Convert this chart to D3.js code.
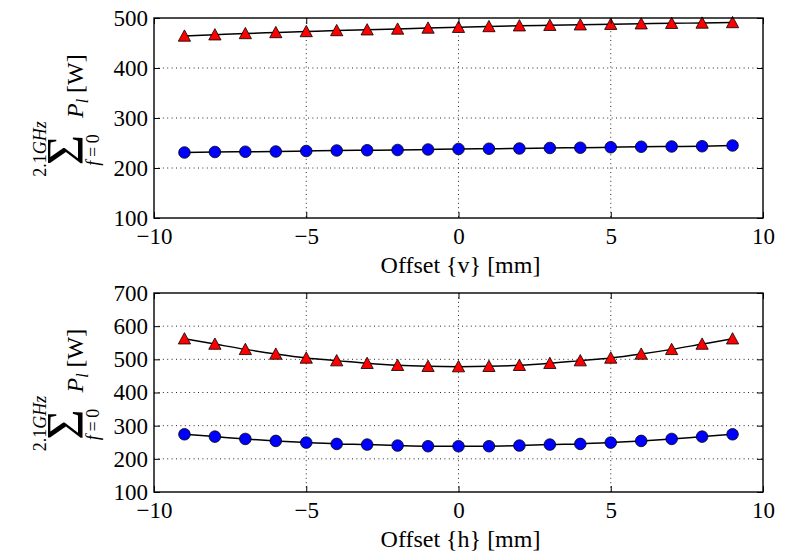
<!DOCTYPE html>
<html>
<head>
<meta charset="utf-8">
<script src="https://cdn.jsdelivr.net/npm/d3@7"></script>
<style>
  body { margin: 0; background: #fff; }
  svg text { font-family: "Liberation Serif", "Times New Roman", Times, serif; fill: #000; }
</style>
</head>
<body>
<svg id="chart" width="795" height="554"></svg>
<script>
// offsets in mm
var offsets = [-9, -8, -7, -6, -5, -4, -3, -2, -1, 0, 1, 2, 3, 4, 5, 6, 7, 8, 9];

// vertical offset panel
var vTriangles = [464, 466.5, 469, 471, 473, 475, 476.5, 478, 480, 481.5, 483, 484.5, 485.5, 486.5, 487.5, 488.5, 489.5, 490, 491];
var vCircles = [231, 232, 232.5, 233, 234, 235, 235.5, 236, 237, 238, 238.5, 239, 240, 240.5, 241.5, 242.5, 243, 243.5, 245];

// horizontal offset panel
var hTriangles = [562, 546, 530, 516, 504, 496, 488, 482, 479, 478, 479, 482, 488, 496, 504, 516, 530, 546, 562];
var hCircles = [274, 267, 260, 254, 249, 245, 243, 240, 238, 238, 238, 240, 243, 245, 249, 254, 260, 267, 274];

var xTicks = [-10, -5, 0, 5, 10];
var vYTicks = [100, 200, 300, 400, 500];
var hYTicks = [100, 200, 300, 400, 500, 600, 700];

var panels = [
    { top: 18, bottom: 218, yDomain: [100, 500], yTicks: vYTicks, tri: vTriangles, circ: vCircles, xlabel: "Offset {v} [mm]" },
    { top: 293, bottom: 492, yDomain: [100, 700], yTicks: hYTicks, tri: hTriangles, circ: hCircles, xlabel: "Offset {h} [mm]" }
];

var svg = d3.select("#chart");
var left = 154, right = 763;
var serif = "Liberation Serif, Times New Roman, serif";

// matplotlib-like "^" marker
var mplTriangle = {
    draw: function(ctx, size) {
        var r = Math.sqrt(size) / 2;
        ctx.moveTo(0, -r);
        ctx.lineTo(r, r * 0.85);
        ctx.lineTo(-r, r * 0.85);
        ctx.closePath();
    }
};

panels.forEach(function(p) {
    var x = d3.scaleLinear().domain([-10, 10]).range([left, right]);
    var y = d3.scaleLinear().domain(p.yDomain).range([p.bottom, p.top]);
    var g = svg.append("g");

    // grid
    g.selectAll(".gx").data(xTicks.slice(1, -1)).enter().append("line")
        .attr("x1", d => x(d)).attr("x2", d => x(d))
        .attr("y1", p.top).attr("y2", p.bottom)
        .attr("stroke", "#111").attr("stroke-width", 0.9).attr("stroke-dasharray", "1,3.4");
    g.selectAll(".gy").data(p.yTicks.slice(1, -1)).enter().append("line")
        .attr("x1", left).attr("x2", right)
        .attr("y1", d => y(d)).attr("y2", d => y(d))
        .attr("stroke", "#111").attr("stroke-width", 0.9).attr("stroke-dasharray", "1,3.4");

    var pts = offsets.map((o, i) => ({ x: o, tri: p.tri[i], circ: p.circ[i] }));
    var line = d3.line().x(d => x(d.x)).curve(d3.curveMonotoneX);

    g.append("path").datum(pts)
        .attr("d", line.y(d => y(d.tri)))
        .attr("fill", "none").attr("stroke", "#000").attr("stroke-width", 1.5);
    g.append("path").datum(pts)
        .attr("d", line.y(d => y(d.circ)))
        .attr("fill", "none").attr("stroke", "#000").attr("stroke-width", 1.5);

    g.selectAll(".circ").data(pts).enter().append("circle")
        .attr("cx", d => x(d.x)).attr("cy", d => y(d.circ)).attr("r", 5.8)
        .attr("fill", "#0000ff").attr("stroke", "#000").attr("stroke-width", 0.8);

    g.selectAll(".tri").data(pts).enter().append("path")
        .attr("transform", d => "translate(" + x(d.x) + "," + y(d.tri) + ")")
        .attr("d", d3.symbol().type(mplTriangle).size(150))
        .attr("fill", "#ff0000").attr("stroke", "#000").attr("stroke-width", 0.8);

    // axes with inward ticks
    g.append("g").attr("transform", "translate(0," + p.bottom + ")")
        .call(d3.axisBottom(x).tickValues(xTicks).tickSize(-6).tickPadding(10).tickFormat(d3.format("d")));
    g.append("g").attr("transform", "translate(0," + p.top + ")")
        .call(d3.axisTop(x).tickValues(xTicks).tickSize(-6).tickFormat(""));
    g.append("g").attr("transform", "translate(" + left + ",0)")
        .call(d3.axisLeft(y).tickValues(p.yTicks).tickSize(-6).tickPadding(6));
    g.append("g").attr("transform", "translate(" + right + ",0)")
        .call(d3.axisRight(y).tickValues(p.yTicks).tickSize(-6).tickFormat(""));

    g.selectAll(".domain").remove();
    g.selectAll("g").attr("font-family", serif);
    g.selectAll(".tick line").attr("stroke", "#000").attr("stroke-width", 1);
    g.selectAll(".tick text").attr("font-size", 23);

    g.append("rect")
        .attr("x", left).attr("y", p.top)
        .attr("width", right - left).attr("height", p.bottom - p.top)
        .attr("fill", "none").attr("stroke", "#000").attr("stroke-width", 1.4);

    // x label
    g.append("text")
        .attr("x", (left + right) / 2 + 2).attr("y", p.bottom + 55)
        .attr("text-anchor", "middle").attr("font-size", 24)
        .text(p.xlabel);

    // y label: sum over f = 0 .. 2.1 GHz of P_l [W]
    var cy = (p.top + p.bottom) / 2;
    var yl = g.append("g").attr("transform", "translate(83," + cy + ") rotate(-90)");
    yl.append("text")
        .attr("x", -32).attr("y", 0).attr("text-anchor", "middle")
        .attr("font-size", 52).text("\u03A3");
    var up = yl.append("text")
        .attr("x", -31).attr("y", -37).attr("text-anchor", "middle").attr("font-size", 18);
    up.append("tspan").text("2.1");
    up.append("tspan").attr("font-style", "italic").text("GHz");
    var lo = yl.append("text")
        .attr("x", -32).attr("y", 16).attr("text-anchor", "middle").attr("font-size", 18);
    lo.append("tspan").attr("font-style", "italic").text("f");
    lo.append("tspan").text("\u2009=\u20090");
    var pl = yl.append("text")
        .attr("x", 0).attr("y", 0).attr("font-size", 24);
    pl.append("tspan").attr("font-style", "italic").text("P");
    pl.append("tspan").attr("font-style", "italic").attr("font-size", 16).attr("dy", 5).text("l");
    pl.append("tspan").attr("dy", -5).text(" [W]");
});
</script>
</body>
</html>
